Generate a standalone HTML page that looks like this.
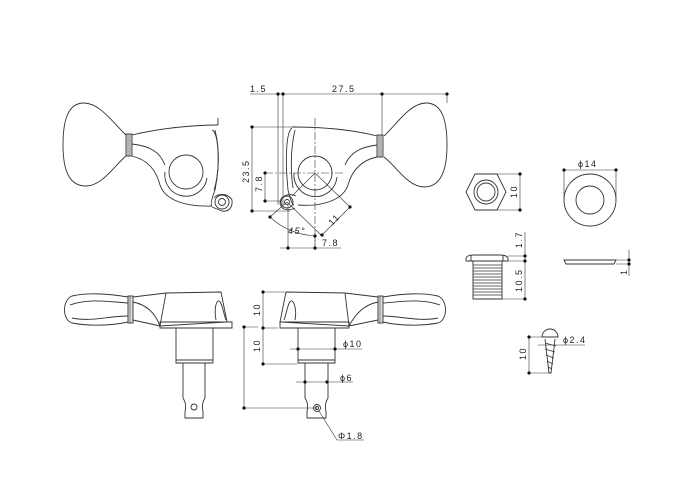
<!DOCTYPE html>
<html><head><meta charset="utf-8"><style>
html,body{margin:0;padding:0;background:#fff;}
svg{display:block}
text{font-family:"Liberation Sans",sans-serif;font-size:9px;fill:#222;letter-spacing:1.5px}
</style></head><body>
<svg width="700" height="500" viewBox="0 0 700 500" xmlns="http://www.w3.org/2000/svg">
<g fill="none" stroke="#333" stroke-width="0.9">
<path d="M126,135 C114,124 100,103 84,103 C68,103 63,120 63,145 C63,172 70,186 86,186 C102,186 114,166 126,156"/>
<rect x="126" y="134" width="6" height="22" fill="#ddd"/>
<path d="M128,134 L128,156 M130,134 L130,156" stroke-width="0.5"/>
<path d="M132,135 C160,128 195,125 218,125"/>
<path d="M132,144 C150,146 160,152 165,165"/>
<path d="M132,156 C148,160 156,170 160,185 C165,200 185,207 212,206"/>
<circle cx="186" cy="172" r="17"/>
<path d="M165,172 A21,21 0 0 0 207,178"/>
<path d="M218,125 L218,118"/>
<path d="M212,130 C218,132 221,160 215,190 C212,198 210,205 212,206"/>
<path d="M215,130 C220,150 219,175 214,190"/>
<circle cx="222" cy="202" r="7"/>
<circle cx="222" cy="202" r="3.5"/>
<path d="M214,198 C218,193 228,193 232,200 C233,208 228,212 222,211 L212,207"/>

<path d="M384,136 C396,125 410,103 426,103 C442,103 447,120 447,145 C447,172 440,187 424,187 C408,187 396,166 384,157"/>
<rect x="377" y="135" width="6" height="22" fill="#ddd"/>
<path d="M379,135 L379,157 M381,135 L381,157" stroke-width="0.5"/>
<path d="M377,136 C350,129 320,127 292,127"/>
<path d="M377,145 C360,147 350,153 345,165"/>
<path d="M377,157 C362,160 352,170 348,185 C343,200 322,207 298,205"/>
<circle cx="315" cy="173" r="17"/>
<path d="M294,173 A21,21 0 0 0 337,177"/>
<path d="M292,128 C286,132 285,160 288,190 C290,198 292,205 294,205"/>
<path d="M295,130 C290,150 291,175 293,188"/>
<circle cx="287" cy="202" r="6"/>
<circle cx="287" cy="202" r="2.5"/>
<path d="M296,196 C290,193 281,195 280,202 C280,209 287,212 295,208"/>
<path d="M315,118 L315,245" stroke-dasharray="8,2,2,2" stroke-width="0.6"/>
<path d="M265,173 L345,173" stroke-dasharray="8,2,2,2" stroke-width="0.6"/>
<path d="M315,173 L292,196 M315,173 L350,207 M287,202 L322,236" stroke-width="0.6"/>
<path d="M250,94 L447,94 M278,94 L278,205 M283,94 L283,205 M382,94 L382,135 M447,94 L447,103" stroke-width="0.6"/>
<path d="M252,127 L252,211 M252,127 L298,127 M252,211 L290,211" stroke-width="0.6"/>
<path d="M265,173 L265,201 M265,201 L282,201" stroke-width="0.6"/>
<path d="M350,207 L322,235" stroke-width="0.6"/>
<path d="M270,217 Q288,234 315,236 M287,202 L270,217" stroke-width="0.6"/>
<path d="M288,205 L288,250 M315,236 L315,250 M280,248 L341,248" stroke-width="0.6"/>

<path d="M128,297 C105,293 85,293 72,296 C62,300 62,320 72,323 C88,326 110,326 128,322"/>
<path d="M128,303 C110,302 90,298 70,305 M128,316 C110,316 90,322 72,318"/>
<rect x="128" y="296" width="5" height="27" fill="#ddd"/>
<path d="M130,296 L130,323" stroke-width="0.5"/>
<path d="M133,297 L166,293 L221,292 L227,322 L160,326 L166,293"/>
<path d="M133,302 C148,305 156,315 160,326 M133,320 L160,326"/>
<path d="M160,322 L232,322 L232,328 L160,328 Z"/>
<path d="M216,320 C214,310 216,300 219,301 C222,302 223,312 226,320"/>
<path d="M176,328 L176,363 L213,363 L213,328 M176,360 L213,360"/>
<path d="M183,363 L183,398 C186,403 186,406 185,412 L185,418 L203,418 L203,412 C202,406 202,403 205,398 L205,363"/>
<circle cx="194" cy="407" r="3"/>

<path d="M383,297 C405,293 425,293 438,296 C448,300 448,320 438,323 C422,326 400,326 383,322"/>
<path d="M383,303 C400,302 420,298 440,305 M383,316 C400,316 420,322 438,318"/>
<rect x="378" y="296" width="5" height="27" fill="#ddd"/>
<path d="M380,296 L380,323" stroke-width="0.5"/>
<path d="M378,297 L345,293 L286,292 L280,322 L349,326 L345,293"/>
<path d="M378,302 C363,305 355,315 349,326 M378,320 L349,326"/>
<path d="M280,322 L349,322 L349,328 L280,328 Z"/>
<path d="M295,320 C297,310 294,300 291,301 C288,302 287,312 284,320"/>
<path d="M298,328 L298,363 L335,363 L335,328 M298,360 L335,360"/>
<path d="M305,363 L305,398 C308,403 308,406 307,412 L307,418 L326,418 L326,412 C325,406 325,403 328,398 L328,363"/>
<circle cx="317" cy="408" r="3.5"/>
<circle cx="317" cy="408" r="1.5"/>
<path d="M263,292 L263,364 M263,292 L285,292 M263,328 L278,328 M263,364 L297,364" stroke-width="0.6"/>
<path d="M244,327 L244,408 M244,327 L258,327 M244,408 L317,408" stroke-width="0.6"/>
<path d="M290,349 L362,349 M296,382 L353,382" stroke-width="0.6"/>
<path d="M319,411 L337,440 L364,440" stroke-width="0.6"/>

<polygon points="466,192 475,174 497,174 506,192 497,210 475,210"/>
<circle cx="486" cy="192" r="12"/>
<circle cx="486" cy="192" r="9"/>
<path d="M497,174 L520,174 L520,210 L497,210" stroke-width="0.6"/>
<circle cx="590" cy="200" r="26"/>
<circle cx="590" cy="200" r="14"/>
<path d="M564,170 L616,170 M564,170 L564,198 M616,170 L616,198" stroke-width="0.6"/>
<path d="M564,260 L616,260 L614,264 L566,264 Z"/>
<path d="M616,260 L630,260 M616,264 L630,264 M629,250 L629,276" stroke-width="0.6"/>
<path d="M466,261 L466,258 C468,255 470,255 475,255 L500,255 C505,255 507,256 508,258 L508,261 Z"/>
<path d="M471,255 L471,261 M503,255 L503,261 M473,261 L473,299 L502,299 L502,261"/>
<path d="M473,265 L502,265 M473,268 L502,268 M473,271 L502,271 M473,274 L502,274 M473,277 L502,277 M473,280 L502,280 M473,283 L502,283 M473,286 L502,286 M473,289 L502,289 M473,292 L502,292 M473,295 L502,295" stroke-width="0.7"/>
<path d="M525,232 L525,299 M508,256 L525,256 M508,261 L525,261 M502,299 L525,299" stroke-width="0.6"/>
<path d="M542,337 A8,8 0 0 1 558,337 Z"/>
<path d="M545,339 L549,373 L551,373 L555,339"/>
<path d="M545,343 L556,346 M545,349 L555,352 M546,355 L554,358 M547,361 L553,364 M548,367 L552,369" stroke-width="0.7"/>
<path d="M529,337 L529,373 M529,337 L542,337 M529,373 L549,373 M538,345 L585,345" stroke-width="0.6"/>
</g>
<g fill="#111">
<circle cx="278" cy="94" r="1.6"/><circle cx="283" cy="94" r="1.6"/><circle cx="382" cy="94" r="1.6"/><circle cx="447" cy="94" r="1.6"/>
<circle cx="252" cy="127" r="1.6"/><circle cx="252" cy="211" r="1.6"/><circle cx="265" cy="173" r="1.6"/><circle cx="265" cy="201" r="1.6"/>
<circle cx="350" cy="207" r="1.6"/><circle cx="322" cy="235" r="1.6"/><circle cx="270" cy="217" r="1.6"/><circle cx="315" cy="236" r="1.6"/>
<circle cx="288" cy="248" r="1.6"/><circle cx="315" cy="248" r="1.6"/>
<circle cx="263" cy="292" r="1.6"/><circle cx="263" cy="328" r="1.6"/><circle cx="263" cy="364" r="1.6"/>
<circle cx="244" cy="327" r="1.6"/><circle cx="244" cy="408" r="1.6"/>
<circle cx="298" cy="349" r="1.6"/><circle cx="335" cy="349" r="1.6"/><circle cx="305" cy="382" r="1.6"/><circle cx="327" cy="382" r="1.6"/>
<circle cx="520" cy="174" r="1.6"/><circle cx="520" cy="210" r="1.6"/><circle cx="564" cy="170" r="1.6"/><circle cx="616" cy="170" r="1.6"/>
<circle cx="629" cy="260" r="1.6"/><circle cx="629" cy="264" r="1.6"/>
<circle cx="525" cy="256" r="1.6"/><circle cx="525" cy="261" r="1.6"/><circle cx="525" cy="299" r="1.6"/>
<circle cx="529" cy="337" r="1.6"/><circle cx="529" cy="373" r="1.6"/>
</g>
<text x="250" y="92">1.5</text>
<text x="332" y="92">27.5</text>
<text transform="translate(249,183) rotate(-90)">23.5</text>
<text transform="translate(262,192) rotate(-90)">7.8</text>
<text x="288" y="234" font-style="italic">45°</text>
<text x="322" y="246">7.8</text>
<text transform="translate(332,226) rotate(-45)">11</text>
<text transform="translate(260,316) rotate(-90)">10</text>
<text transform="translate(260,352) rotate(-90)">10</text>
<text x="343" y="347">ϕ10</text>
<text x="340" y="381">ϕ6</text>
<text x="338" y="439">Φ1.8</text>
<text transform="translate(517,198) rotate(-90)">10</text>
<text x="578" y="167">ϕ14</text>
<text transform="translate(627,275) rotate(-90)">1</text>
<text transform="translate(522,248) rotate(-90)">1.7</text>
<text transform="translate(522,292) rotate(-90)">10.5</text>
<text transform="translate(526,360) rotate(-90)">10</text>
<text x="563" y="343">ϕ2.4</text>
</svg>
</body></html>
